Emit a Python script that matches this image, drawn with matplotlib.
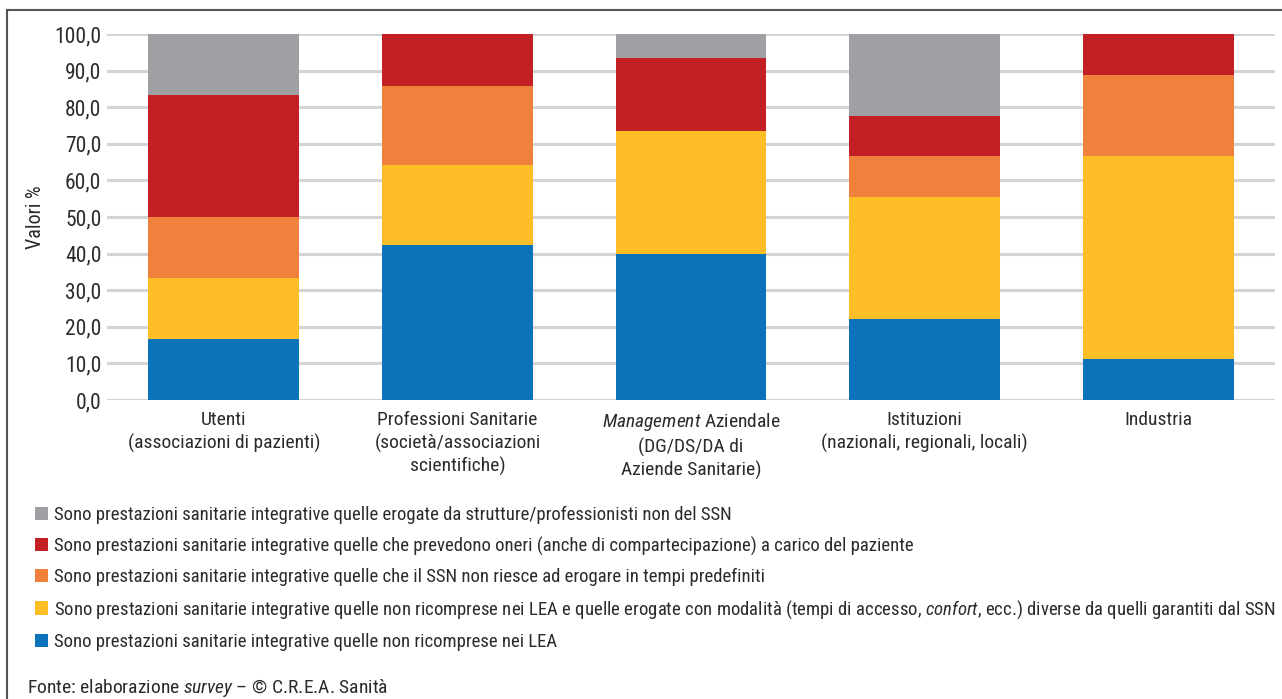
import numpy as np
import matplotlib
matplotlib.use("Agg")
import matplotlib.pyplot as plt
from matplotlib.patches import Patch
from matplotlib.lines import Line2D

plt.rcParams['font.family'] = ['Roboto Condensed', 'Liberation Sans Narrow', 'Liberation Sans', 'DejaVu Sans']
plt.rcParams['mathtext.fontset'] = 'custom'
plt.rcParams['mathtext.rm'] = 'Roboto Condensed'
plt.rcParams['mathtext.it'] = 'Roboto Condensed:italic'

# categories (x axis)
categories = [
    "Utenti\n(associazioni di pazienti)",
    "Professioni Sanitarie\n(società/associazioni\nscientifiche)",
    r"$\it{Management}$ Aziendale" + "\n(DG/DS/DA di\nAziende Sanitarie)",
    "Istituzioni\n(nazionali, regionali, locali)",
    "Industria",
]

# series values (%), stacked bottom -> top
non_lea = [16.7, 42.3, 40.0, 22.2, 11.1]
non_lea_modalita = [16.7, 21.9, 33.5, 33.3, 55.6]
tempi = [16.7, 21.6, 0.0, 11.1, 22.2]
oneri = [33.3, 14.2, 20.0, 11.1, 11.1]
non_ssn = [16.6, 0.0, 6.5, 22.3, 0.0]

series = [non_lea, non_lea_modalita, tempi, oneri, non_ssn]
colors = ["#0a73ba", "#fdbd26", "#f0813c", "#c32026", "#a0a0a4"]
labels = [
    "Sono prestazioni sanitarie integrative quelle non ricomprese nei LEA",
    "Sono prestazioni sanitarie integrative quelle non ricomprese nei LEA e quelle erogate con modalità "
    r"(tempi di accesso, $\it{confort}$, ecc.) diverse da quelli garantiti dal SSN",
    "Sono prestazioni sanitarie integrative quelle che il SSN non riesce ad erogare in tempi predefiniti",
    "Sono prestazioni sanitarie integrative quelle che prevedono oneri (anche di compartecipazione) a carico del paziente",
    "Sono prestazioni sanitarie integrative quelle erogate da strutture/professionisti non del SSN",
]

text_col = "#2b2b2b"

fig = plt.figure(figsize=(12.82, 6.99), dpi=100)
ax = fig.add_axes([107 / 1282, 1 - 400 / 699, 1168 / 1282, 366 / 699])

x = np.arange(len(categories))
bottom = np.zeros(len(categories))
for vals, c in zip(series, colors):
    ax.bar(x, vals, 0.645, bottom=bottom, color=c, zorder=3)
    bottom += np.array(vals)

ax.set_xlim(-0.5, 4.5)
ax.set_ylim(0, 100)
ax.set_yticks(np.arange(0, 101, 10))
ax.set_yticklabels([f"{v:.1f}".replace(".", ",") for v in np.arange(0, 101, 10)])
ax.set_xticks(x)
ax.set_xticklabels(categories, linespacing=1.3)
ax.tick_params(axis='both', length=0, colors=text_col)
ax.tick_params(axis='x', pad=8, labelsize=14)
ax.tick_params(axis='y', pad=4, labelsize=15.5)
for s in ax.spines.values():
    s.set_visible(False)
ax.yaxis.grid(True, color="#d4d4d4", linewidth=2.2, zorder=0)
ax.set_ylabel("Valori %", fontsize=14.5, color=text_col)
ax.yaxis.set_label_coords(-0.053, 0.5)

# legend (top entry = gray)
handles = [Patch(facecolor=c, edgecolor='none') for c in colors][::-1]
fig.legend(handles, labels[::-1], loc='upper left', bbox_to_anchor=(18 / 1282, 1 - 489 / 699),
           frameon=False, fontsize=13.5, handlelength=0.72, handleheight=0.72,
           handletextpad=0.3, labelspacing=0.66, labelcolor=text_col)

fig.text(27 / 1282, 1 - 688 / 699, r"Fonte: elaborazione $\it{survey}$ – © C.R.E.A. Sanità",
         fontsize=14, color=text_col, va='center')

# outer frame
fig.add_artist(Line2D([7 / 1282, 1.0], [1 - 10 / 699] * 2, color="#555555", lw=1.5))
fig.add_artist(Line2D([7 / 1282] * 2, [0.0, 1 - 10 / 699], color="#555555", lw=1.5))

fig.savefig("out.png", dpi=100)
